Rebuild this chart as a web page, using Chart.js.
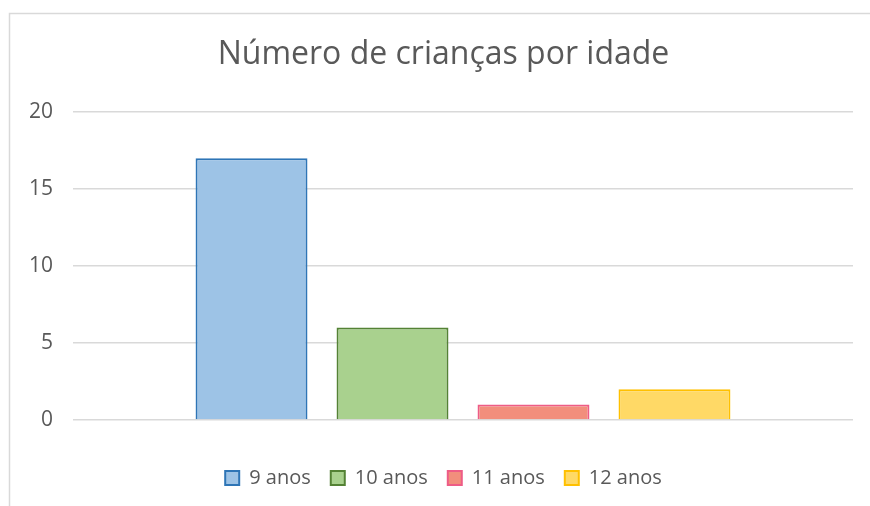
<!DOCTYPE html>
<html>
<head>
<meta charset="utf-8">
<script src="https://cdn.jsdelivr.net/npm/chart.js@4"></script>
<style>
html,body{margin:0;padding:0;background:#fff;}
#wrap{position:relative;width:870px;height:506px;}
</style>
</head>
<body>
<div id="wrap"><canvas id="c" width="870" height="506"></canvas></div>
<script>
const titleText = 'Número de crianças por idade';
const categories = [''];
const seriesLabels = ['9 anos', '10 anos', '11 anos', '12 anos'];
const seriesValues = [17, 6, 1, 2];
const fillColors = ['#9DC3E6', '#A9D18E', '#F28E7C', '#FFD966'];
const borderColors = ['#2E75B6', '#548235', '#EE5C86', '#FFC000'];
const yTicks = [0, 5, 10, 15, 20];

const datasets = seriesLabels.map((lab, i) => ({
  label: lab,
  data: [seriesValues[i]],
  backgroundColor: fillColors[i],
  borderColor: borderColors[i],
  borderWidth: 2,
  barPercentage: 0.794,
  categoryPercentage: 0.723
}));

const frame = {
  id: 'frame',
  beforeDraw(chart) {
    const ctx = chart.ctx;
    ctx.save();
    ctx.fillStyle = '#fff';
    ctx.fillRect(0, 0, chart.width, chart.height);
    ctx.strokeStyle = '#D9D9D9';
    ctx.lineWidth = 1.5;
    ctx.beginPath();
    ctx.moveTo(9.5, chart.height);
    ctx.lineTo(9.5, 13.5);
    ctx.lineTo(chart.width, 13.5);
    ctx.stroke();
    ctx.restore();
  }
};

new Chart(document.getElementById('c'), {
  type: 'bar',
  data: { labels: categories, datasets },
  plugins: [frame],
  options: {
    responsive: false,
    animation: false,
    layout: { padding: { left: 17, right: 0, top: 0, bottom: 8 } },
    plugins: {
      title: {
        display: true,
        text: titleText,
        color: '#595959',
        font: { family: 'Open Sans', size: 32, weight: 'normal' },
        padding: { top: 36, bottom: 37.6 }
      },
      legend: {
        position: 'bottom',
        labels: {
          color: '#595959',
          font: { family: 'Open Sans', size: 20 },
          boxWidth: 14,
          boxHeight: 14,
          padding: 20
        }
      },
      tooltip: { enabled: false }
    },
    scales: {
      x: {
        ticks: { display: false },
        grid: { display: false },
        border: { display: false },
        afterFit(scale) { scale.height = 28; }
      },
      y: {
        min: 0,
        max: 20,
        afterBuildTicks(scale) { scale.ticks = yTicks.map(v => ({ value: v })); },
        afterFit(scale) { scale.width = 56; },
        ticks: {
          color: '#595959',
          font: { family: 'Open Sans', size: 21 },
          padding: 20
        },
        grid: { color: '#D9D9D9', lineWidth: 1.5, drawTicks: false },
        border: { display: false }
      },
      yRight: {
        position: 'right',
        min: 0,
        max: 20,
        ticks: { display: false },
        grid: { display: false },
        border: { display: false },
        afterFit(scale) { scale.width = 17; }
      }
    }
  }
});
</script>
</body>
</html>
